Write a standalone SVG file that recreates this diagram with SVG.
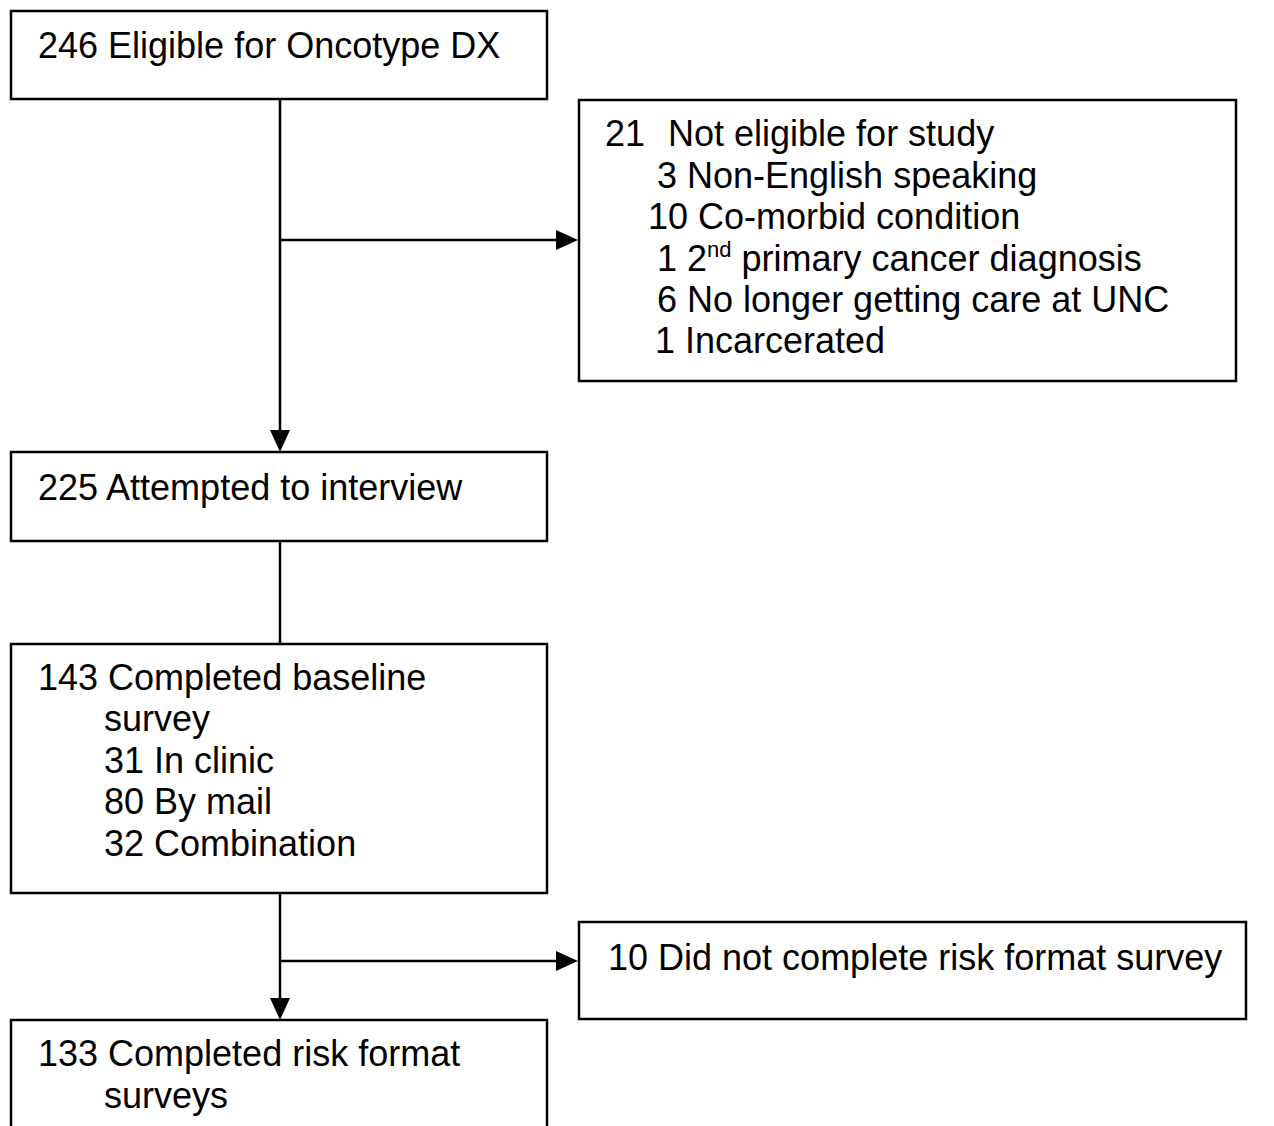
<svg xmlns="http://www.w3.org/2000/svg" width="1274" height="1126" viewBox="0 0 1274 1126">
<defs>
<style>
.box{fill:#fff;stroke:#000;stroke-width:2.5}
.t{font-family:"Liberation Sans",Arial,sans-serif;font-size:36px;fill:#000}
.sup{font-size:22px}
.c{fill:none;stroke:#000;stroke-width:2.5}
</style>
<marker id="ah" viewBox="0 0 22 20" refX="12" refY="10" markerWidth="22" markerHeight="20" markerUnits="userSpaceOnUse" orient="auto">
<path d="M0,0 L22,10 L0,20 Z" fill="#000"/>
</marker>
</defs>
<rect width="1274" height="1126" fill="#fff"/>
<g id="connectors">
<line class="c" x1="280" y1="99" x2="280" y2="442" marker-end="url(#ah)"/>
<line class="c" x1="280" y1="240" x2="568" y2="240" marker-end="url(#ah)"/>
<line class="c" x1="280" y1="541" x2="280" y2="644"/>
<line class="c" x1="280" y1="893" x2="280" y2="1010" marker-end="url(#ah)"/>
<line class="c" x1="280" y1="961" x2="568" y2="961" marker-end="url(#ah)"/>
</g>
<g id="n-eligible">
<rect class="box" x="11" y="11" width="536" height="88"/>
<text class="t" x="38" y="58">246 Eligible for Oncotype DX</text>
</g>
<g id="n-not-eligible">
<rect class="box" x="579" y="100" width="657" height="281"/>
<text class="t" x="605" y="146">21</text>
<text class="t" x="668" y="146">Not eligible for study</text>
<text class="t" x="657" y="188">3 Non-English speaking</text>
<text class="t" x="648" y="229">10 Co-morbid condition</text>
<text class="t" x="657" y="271">1 2<tspan class="sup" dy="-14">nd</tspan><tspan dy="14"> primary cancer diagnosis</tspan></text>
<text class="t" x="657" y="312">6 No longer getting care at UNC</text>
<text class="t" x="655" y="353">1 Incarcerated</text>
</g>
<g id="n-attempted">
<rect class="box" x="11" y="452" width="536" height="89"/>
<text class="t" x="38" y="500">225 Attempted to interview</text>
</g>
<g id="n-baseline">
<rect class="box" x="11" y="644" width="536" height="249"/>
<text class="t" x="38" y="690">143 Completed baseline</text>
<text class="t" x="104" y="731">survey</text>
<text class="t" x="104" y="773">31 In clinic</text>
<text class="t" x="104" y="814">80 By mail</text>
<text class="t" x="104" y="856">32 Combination</text>
</g>
<g id="n-not-complete">
<rect class="box" x="579" y="922" width="667" height="97"/>
<text class="t" x="608" y="970">10 Did not complete risk format survey</text>
</g>
<g id="n-completed-risk">
<rect class="box" x="11" y="1020" width="536" height="130"/>
<text class="t" x="38" y="1066">133 Completed risk format</text>
<text class="t" x="104" y="1108">surveys</text>
</g>
</svg>
